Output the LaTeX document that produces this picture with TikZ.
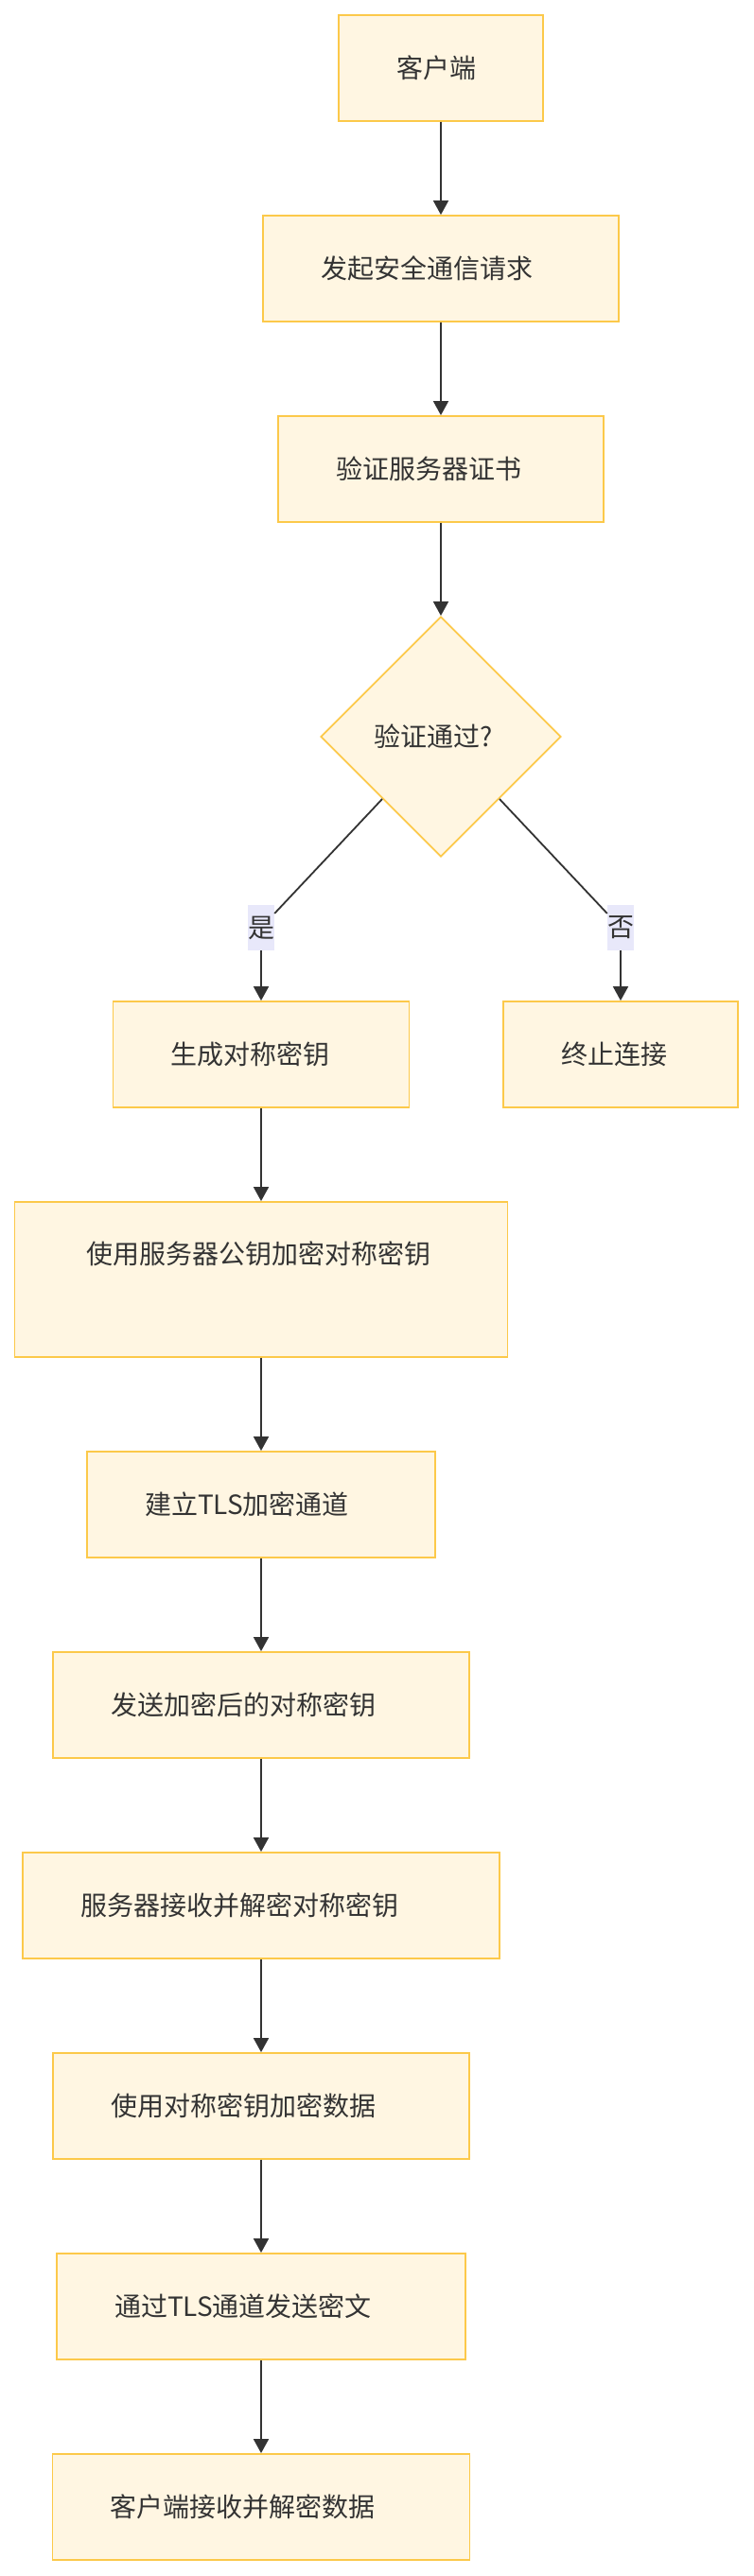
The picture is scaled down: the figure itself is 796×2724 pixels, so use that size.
\documentclass[tikz,border=0pt]{standalone}
\usepackage{fontspec}
\setmainfont{Noto Sans CJK SC}
\usepackage{xcolor}
\usepackage{tikz}
\usetikzlibrary{shapes.geometric, arrows.meta, positioning}

\definecolor{boxfill}{HTML}{FFF6E2}
\definecolor{boxline}{HTML}{FCC94A}
\definecolor{labelfill}{HTML}{E8E8FA}
\definecolor{inkgray}{HTML}{333333}

\begin{document}
\begin{tikzpicture}[
    x=1pt, y=-1pt,
    font=\fontsize{28}{34}\selectfont,
    >={Triangle[length=15pt, width=16pt]},
    % Styles
    stepbox/.style={
      draw=boxline,
      fill=boxfill,
      line width=1.8pt,
      text=inkgray,
      align=left,
      inner xsep=61pt,
      inner ysep=0pt,
      minimum height=112pt
    },
    decision/.style={
      diamond,
      aspect=1,
      draw=boxline,
      fill=boxfill,
      line width=1.8pt,
      text=inkgray,
      inner sep=0pt,
      minimum width=254pt,
      minimum height=254pt
    },
    edgelabel/.style={
      fill=labelfill,
      text=inkgray,
      inner xsep=0pt,
      inner ysep=0pt,
      minimum height=48pt
    },
    line/.style={
      draw=inkgray,
      line width=1.8pt
    },
    arrow/.style={
      ->,
      line,
      fill=inkgray
    }
  ]

    % Page frame
    \useasboundingbox (0,0) rectangle (796,2724);

    % Top column
    \node (client) [stepbox, text width=94pt] at (466,72) {客户端};
    \node (request) [stepbox, text width=254pt] at (466,284) {发起安全通信请求};
    \node (verify) [stepbox, text width=222pt] at (466,496) {验证服务器证书};
    \node (check) [decision] at (466,779) {\hspace*{-16pt}验证通过?};

    % Branch labels
    \node (yes) [edgelabel] at (276,981) {是};
    \node (no) [edgelabel] at (656,981) {否};

    % Branch targets
    \node (genkey) [stepbox, text width=191pt] at (276,1115) {生成对称密钥};
    \node (abort) [stepbox, text width=126pt] at (656,1115) {终止连接};

    % Left column
    \node (enckey) [stepbox, inner xsep=76pt, text width=369pt, minimum height=164pt,
      text height=24pt, text depth=57pt] at (276,1353) {使用服务器公钥加密对称密钥};
    \node (tls) [stepbox, text width=246pt] at (276,1591) {建立TLS加密通道};
    \node (sendkey) [stepbox, text width=318pt] at (276,1803) {发送加密后的对称密钥};
    \node (serverdec) [stepbox, text width=382pt] at (276,2015) {服务器接收并解密对称密钥};
    \node (encdata) [stepbox, text width=318pt] at (276,2227) {使用对称密钥加密数据};
    \node (sendcipher) [stepbox, text width=310pt] at (276,2439) {通过TLS通道发送密文};
    \node (clientdec) [stepbox, text width=319pt] at (276,2651) {客户端接收并解密数据};

    % Connections
    \draw [arrow] (client) -- (request);
    \draw [arrow] (request) -- (verify);
    \draw [arrow] (verify) -- (check);

    % Decision branches
    \draw [line] (check) -- (yes);
    \draw [arrow] (yes) -- (genkey);
    \draw [line] (check) -- (no);
    \draw [arrow] (no) -- (abort);

    % Main flow
    \draw [arrow] (genkey) -- (enckey);
    \draw [arrow] (enckey) -- (tls);
    \draw [arrow] (tls) -- (sendkey);
    \draw [arrow] (sendkey) -- (serverdec);
    \draw [arrow] (serverdec) -- (encdata);
    \draw [arrow] (encdata) -- (sendcipher);
    \draw [arrow] (sendcipher) -- (clientdec);

\end{tikzpicture}
\end{document}
